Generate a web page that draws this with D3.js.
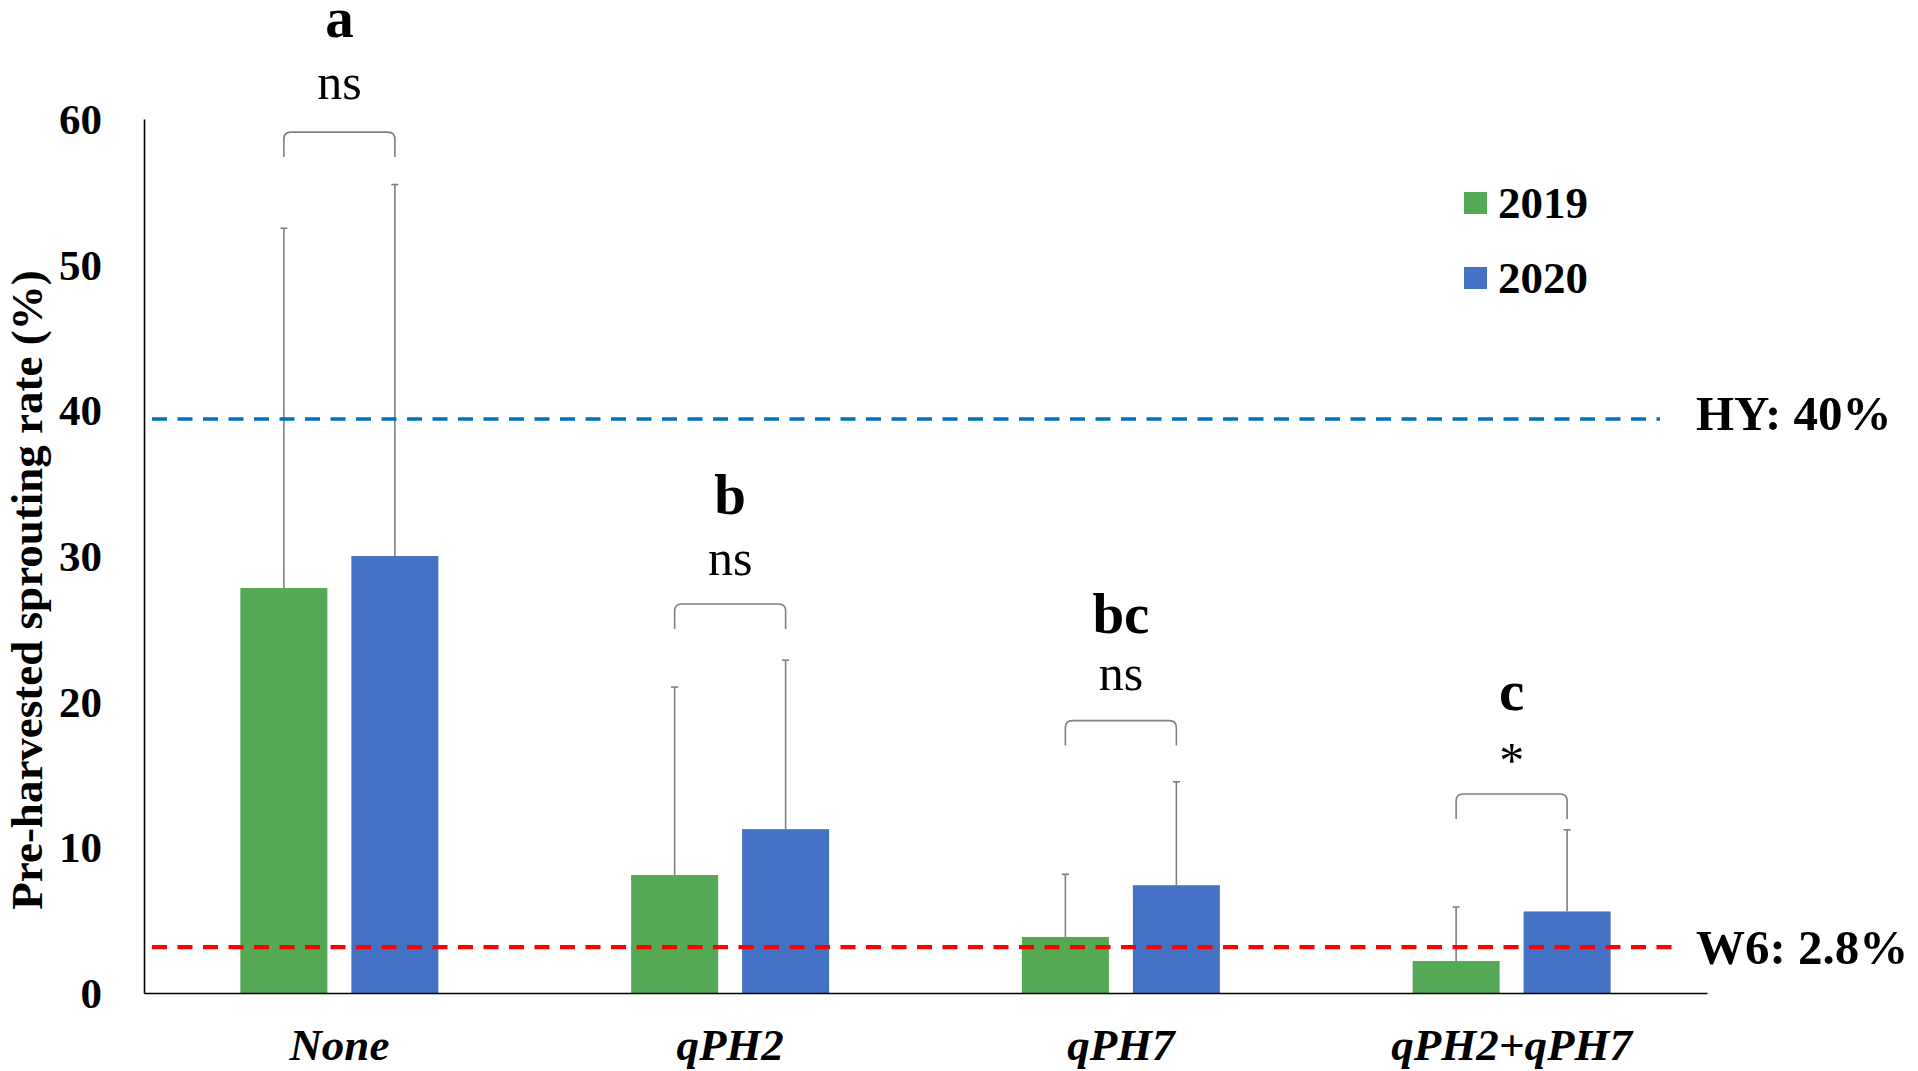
<!DOCTYPE html>
<html>
<head>
<meta charset="utf-8">
<script src="https://cdn.jsdelivr.net/npm/d3@7"></script>
<style>
  body { margin: 0; background: #fff; }
  text { font-family: "Liberation Serif", "Times New Roman", serif; }
</style>
</head>
<body>
<div id="chart"></div>
<script>
// Data
let groups = ["None", "qPH2", "qPH7", "qPH2+qPH7"]
let years = ["2019", "2020"]
let means2019 = [27.8, 8.1, 3.85, 2.2]
let means2020 = [30.0, 11.25, 7.4, 5.6]
let sd2019 = [24.7, 12.9, 4.3, 3.7]
let sd2020 = [25.5, 11.6, 7.1, 5.6]
let yTicks = [0, 10, 20, 30, 40, 50, 60]

// significance letters / pairwise marks, and where they sit (in % units)
let letters = ["a", "b", "bc", "c"]
let letterLevel = [65.6, 32.9, 24.7, 19.4]
let pairMarks = ["ns", "ns", "ns", "*"]
let pairLevel = [61.4, 28.7, 20.8, 14.8]
let bracketLevel = [59.1, 26.7, 18.7, 13.66]

// reference lines
let refValues = [39.4, 3.15]
let refLabels = ["HY: 40%", "W6: 2.8%"]

const width = 1918
const height = 1071
const colors = { "2019": "#55A955", "2020": "#4472C4" }
const refColors = ["#0070C0", "#FF0000"]

const svg = d3.select("#chart")
  .append("svg")
  .attr("width", width)
  .attr("height", height)

svg.append("rect").attr("width", width).attr("height", height).attr("fill", "#fff")

// scales
const x0 = d3.scaleBand()
  .domain(groups)
  .range([144, 1707])

const bw = x0.bandwidth()
const x1 = d3.scaleBand()
  .domain(years)
  .range([bw / 2 - 99, bw / 2 + 99])
  .paddingInner(0.216)

const y = d3.scaleLinear()
  .domain([0, 60])
  .range([993, 119])

let rows = groups.map((g, i) => ({
  group: g,
  values: [
    { year: "2019", mean: means2019[i], sd: sd2019[i] },
    { year: "2020", mean: means2020[i], sd: sd2020[i] }
  ]
}))

// bars
let gGroups = svg.selectAll(".grp")
  .data(rows)
  .enter()
  .append("g")
  .attr("class", "grp")
  .attr("transform", d => `translate(${x0(d.group)},0)`)

gGroups.selectAll("rect")
  .data(d => d.values)
  .enter()
  .append("rect")
  .attr("x", d => x1(d.year))
  .attr("width", x1.bandwidth())
  .attr("y", d => y(d.mean))
  .attr("height", d => y(0) - y(d.mean))
  .attr("fill", d => colors[d.year])

// error bars (upper only)
gGroups.selectAll(".err")
  .data(d => d.values)
  .enter()
  .append("line")
  .attr("class", "err")
  .attr("x1", d => x1(d.year) + x1.bandwidth() / 2)
  .attr("x2", d => x1(d.year) + x1.bandwidth() / 2)
  .attr("y1", d => y(d.mean))
  .attr("y2", d => y(d.mean + d.sd))
  .attr("stroke", "#7f7f7f")
  .attr("stroke-width", 1.6)

gGroups.selectAll(".cap")
  .data(d => d.values)
  .enter()
  .append("line")
  .attr("class", "cap")
  .attr("x1", d => x1(d.year) + x1.bandwidth() / 2 - 3.5)
  .attr("x2", d => x1(d.year) + x1.bandwidth() / 2 + 3.5)
  .attr("y1", d => y(d.mean + d.sd))
  .attr("y2", d => y(d.mean + d.sd))
  .attr("stroke", "#7f7f7f")
  .attr("stroke-width", 1.6)

// reference dashed lines
refValues.forEach((v, i) => {
  svg.append("line")
    .attr("x1", 152)
    .attr("x2", i == 0 ? 1660 : 1682)
    .attr("y1", y(v))
    .attr("y2", y(v))
    .attr("stroke", refColors[i])
    .attr("stroke-width", i == 0 ? 3.6 : 4.4)
    .attr("stroke-dasharray", "15,10.5")

  svg.append("text")
    .attr("x", 1696)
    .attr("y", y(v) + (i == 0 ? 11 : 17))
    .attr("font-size", 49)
    .attr("font-weight", "bold")
    .text(refLabels[i])
})

// axes
const yAxis = d3.axisLeft(y).tickValues(yTicks).tickSize(0).tickPadding(42)
const xAxis = d3.axisBottom(x0).tickSize(0).tickPadding(0)

let ya = svg.append("g")
  .attr("transform", "translate(144,0)")
  .call(yAxis)
ya.select(".domain").attr("stroke", "#000").attr("stroke-width", 1.6)
ya.selectAll("text")
  .attr("font-family", "Liberation Serif")
  .attr("font-size", 43)
  .attr("font-weight", "bold")
  .attr("fill", "#000")
  .attr("dy", "0.34em")

let xa = svg.append("g")
  .attr("transform", "translate(0,993)")
  .call(xAxis)
xa.select(".domain").attr("stroke", "#000").attr("stroke-width", 1.6)
xa.selectAll("text")
  .attr("font-family", "Liberation Serif")
  .attr("font-size", 45)
  .attr("font-weight", "bold")
  .attr("font-style", "italic")
  .attr("fill", "#000")
  .attr("dy", 0)
  .attr("y", 67)

// y axis title
svg.append("text")
  .attr("transform", "translate(42,590) rotate(-90)")
  .attr("text-anchor", "middle")
  .attr("font-size", 45)
  .attr("font-weight", "bold")
  .text("Pre-harvested sprouting rate (%)")

// brackets, pairwise marks and letters
rows.forEach((d, i) => {
  let gx = x0(d.group)
  let xa1 = gx + x1("2019") + x1.bandwidth() / 2
  let xa2 = gx + x1("2020") + x1.bandwidth() / 2
  let top = y(bracketLevel[i])
  let bot = top + 25
  let r = 7
  let p = d3.path()
  p.moveTo(xa1, bot)
  p.lineTo(xa1, top + r)
  p.quadraticCurveTo(xa1, top, xa1 + r, top)
  p.lineTo(xa2 - r, top)
  p.quadraticCurveTo(xa2, top, xa2, top + r)
  p.lineTo(xa2, bot)
  svg.append("path")
    .attr("d", p.toString())
    .attr("fill", "none")
    .attr("stroke", "#808080")
    .attr("stroke-width", 1.6)

  let cx = (xa1 + xa2) / 2
  svg.append("text")
    .attr("x", cx)
    .attr("y", y(pairLevel[i]))
    .attr("text-anchor", "middle")
    .attr("font-size", 50)
    .text(pairMarks[i])

  svg.append("text")
    .attr("x", cx)
    .attr("y", y(letterLevel[i]))
    .attr("text-anchor", "middle")
    .attr("font-size", 57)
    .attr("font-weight", "bold")
    .text(letters[i])
})

// legend
let legend = svg.append("g").attr("id", "legend")
years.forEach((yr, i) => {
  legend.append("rect")
    .attr("x", 1464)
    .attr("y", 192 + i * 75)
    .attr("width", 23)
    .attr("height", 22)
    .attr("fill", colors[yr])
  legend.append("text")
    .attr("x", 1498)
    .attr("y", 218 + i * 75)
    .attr("font-size", 45)
    .attr("font-weight", "bold")
    .text(yr)
})
</script>
</body>
</html>
